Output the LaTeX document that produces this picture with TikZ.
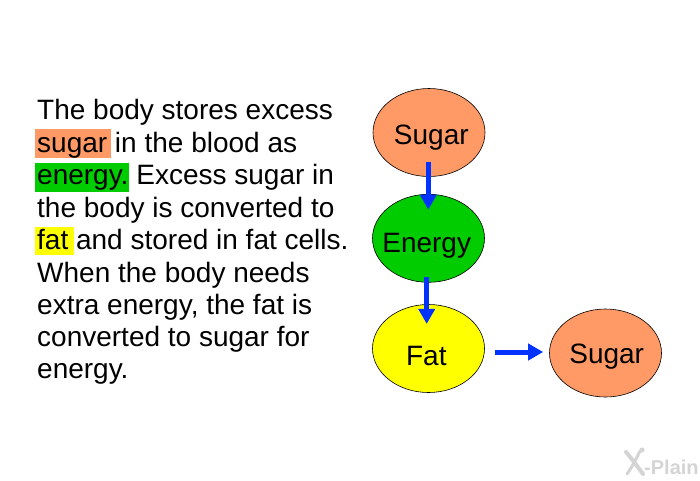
\documentclass[tikz,border=0pt]{standalone}
\usepackage{fontspec}
\setmainfont{Liberation Sans}
\usetikzlibrary{shapes.geometric,arrows.meta}
\definecolor{sugarc}{HTML}{FF9966}
\definecolor{energyc}{HTML}{00CC00}
\definecolor{fatc}{HTML}{FFFF00}
\definecolor{flowc}{HTML}{0033FF}
\definecolor{logoc}{HTML}{D4D4D4}
\tikzset{
  x=1pt,y=-1pt,
  blob/.style={ellipse,draw=black,line width=0.6pt,minimum width=112pt,minimum height=88pt,inner sep=0pt},
  big/.style={font=\fontsize{28}{32}\selectfont,text=black,inner sep=0pt},
  para/.style={big,anchor=base west},
  lab/.style={big,anchor=base},
  flow/.style={draw=flowc,line width=5pt,-{Triangle[length=15pt,width=16pt,fill=flowc,color=flowc]}},
  logo/.style={draw=logoc,line cap=round,line join=round},
}
\begin{document}
\begin{tikzpicture}
\useasboundingbox (0,0) rectangle (700,480);
% highlights
\fill[sugarc] (34.7,129.3) rectangle (110.7,157.7);
\fill[energyc] (34.7,163.3) rectangle (129,192);
\fill[fatc] (34.7,227) rectangle (73.5,255);
% paragraph
\node[para] (l1) at (37,119.3) {The body stores excess};
\node[para] (l2) at (37,152.3) {sugar in the blood as};
\node[para] (l3) at (37,184.8) {energy.\hspace{-2.5pt} Excess sugar in};
\node[para] (l4) at (37,217.2) {the body is converted to};
\node[para] (l5) at (37,249.6) {fat and stored in fat cells.};
\node[para] (l6) at (37,282) {When the body needs};
\node[para] (l7) at (37,314.4) {extra energy, the fat is};
\node[para] (l8) at (37,346.8) {converted to sugar for};
\node[para] (l9) at (37,378.8) {energy.};
% ellipses
\node[blob,fill=sugarc] (s1) at (429,132.5) {};
\node[blob,fill=energyc] (en) at (428.5,238.3) {};
\node[blob,fill=fatc] (fa) at (428.5,348.5) {};
\node[blob,fill=sugarc] (s2) at (605.5,353) {};
\node[lab] (s1t) at (431.3,144) {Sugar};
\node[lab] (ent) at (426.7,252.7) {Energy};
\node[lab] (fat) at (426.3,365) {Fat};
\node[lab] (s2t) at (606.7,363.5) {Sugar};
% arrows
\draw[flow] ([xshift=-0.7pt,yshift=15pt]s1.south) -- ([xshift=-0.2pt,yshift=-15.7pt]en.north);
\draw[flow] ([xshift=-1.8pt,yshift=5.6pt]en.south) -- ([xshift=-1.8pt,yshift=-19.7pt]fa.north);
\draw[flow] ([xshift=10.2pt,yshift=-3.5pt]fa.east) -- ([xshift=-6pt,yshift=1pt]s2.west);
% logo
\draw[logo,line width=4pt] (626,452) .. controls (632,459) and (637,466) .. (643,474);
\draw[logo,line width=3pt] (640,451) .. controls (636,459) and (632,467) .. (627,474);
\fill[logoc] (642,450) circle (2.6);
\node[font=\bfseries\fontsize{20}{20}\selectfont,text=logoc,anchor=base west,inner sep=0pt] (brand) at (644,474) {-Plain};
\end{tikzpicture}
\end{document}
